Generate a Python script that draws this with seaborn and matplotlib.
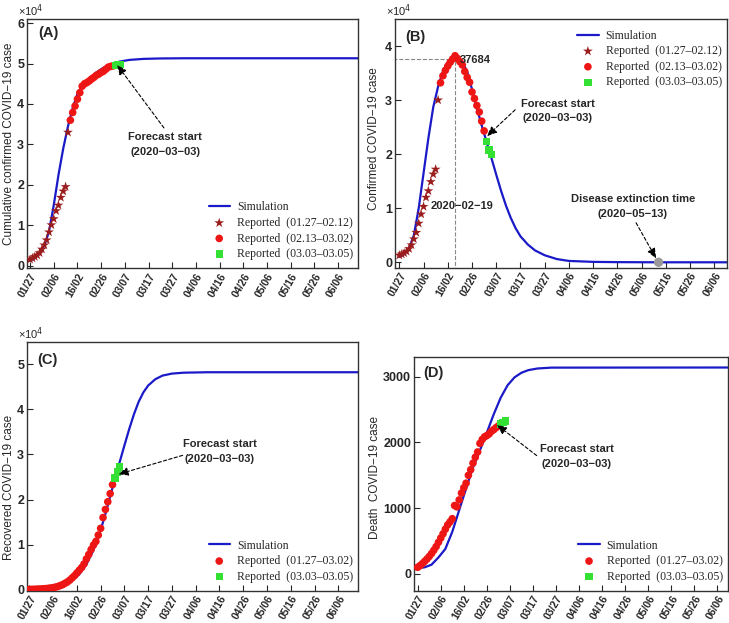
import matplotlib
matplotlib.use('Agg')
import matplotlib.pyplot as plt
import seaborn as sns
import pandas as pd
from matplotlib.ticker import FuncFormatter

# ---- data (days counted from 2020-01-27) ----
tick_days = [0, 10, 20, 30, 40, 50, 60, 70, 80, 90, 100, 110, 120, 130]
tick_labels = ['01/27', '02/06', '16/02', '02/26', '03/07', '03/17', '03/27',
               '04/06', '04/16', '04/26', '05/06', '05/16', '05/26', '06/06']

# (A) cumulative confirmed
a_sim_days = [0, 2, 4, 6, 8, 10, 12, 14, 16, 18, 20, 22, 24, 26, 28, 30, 32, 35, 38, 42, 48, 55, 65, 140]
a_sim_vals = [1300, 1900, 3000, 5000, 8500, 15000, 22500, 29000, 34500, 39000, 42500, 44500,
              45800, 46800, 47800, 48600, 49300, 50000, 50500, 50900, 51150, 51250, 51300, 51300]
a_star = [1590, 1905, 2261, 2639, 3215, 4109, 5142, 6384, 8351, 10117, 11618, 13603,
          14982, 16902, 18454, 19558, 32994]
a_red = [36000, 37900, 39500, 41200, 42800, 44400, 45000, 45300, 45700, 46200, 46600,
         47100, 47400, 47800, 48100, 48600, 49100, 49300, 49400]
a_green = [49540, 49670, 49800]

# (B) current confirmed
b_sim_days = [0, 2, 4, 6, 8, 10, 12, 14, 16, 18, 20, 22, 23, 24, 26, 28, 30, 32, 34, 36, 38,
              40, 42, 44, 46, 48, 50, 53, 56, 60, 65, 70, 80, 90, 107, 140]
b_sim_vals = [1000, 1500, 2600, 5000, 10000, 16500, 23000, 28700, 32500, 35300, 37000, 37900,
              38000, 37900, 37000, 35300, 32000, 28500, 25300, 22300, 19300, 16200, 13200,
              10500, 8200, 6300, 4800, 3300, 2200, 1300, 600, 250, 80, 30, 0, 0]
b_star = [1300, 1500, 1700, 2000, 2500, 3200, 4300, 5500, 7200, 8900, 10300, 12000, 13200,
          14900, 16300, 17200, 30000]
b_red = [33200, 34500, 35500, 36300, 37000, 37600, 38200, 37700, 37100, 36500, 35300,
         34200, 33300, 31500, 30300, 29000, 27800, 26100, 24300]
b_green = [22300, 20800, 19900]
b_peak_day, b_peak_val = 23, 37684
b_extinct_day = 107

# (C) recovered
c_sim_days = [0, 4, 8, 12, 15, 18, 21, 24, 27, 30, 32, 34, 36, 38, 40, 42, 44, 46, 48, 50,
              53, 56, 60, 65, 75, 140]
c_sim_vals = [30, 60, 150, 500, 1100, 2000, 3400, 5600, 8800, 13200, 16800, 20700, 24600,
              28300, 32000, 35600, 38900, 41700, 43800, 45300, 46700, 47500, 47950, 48150,
              48250, 48250]
c_red = [50, 60, 80, 100, 120, 150, 190, 230, 290, 360, 440, 560, 700, 900, 1100, 1400,
         1700, 2100, 2600, 3100, 3700, 4300, 4900, 5700, 6800, 7800, 8900, 9900, 10700,
         12100, 13600, 16000, 17800, 19500, 21300, 23300]
c_green = [24800, 26100, 27200]

# (D) deaths
d_sim_days = [0, 3, 6, 9, 12, 15, 18, 21, 24, 27, 30, 33, 36, 39, 42, 45, 48, 52, 58, 140]
d_sim_vals = [90, 100, 140, 250, 380, 640, 970, 1300, 1620, 1880, 2150, 2430, 2680, 2870,
              2990, 3060, 3100, 3125, 3138, 3140]
d_red = [100, 125, 155, 190, 225, 265, 310, 360, 415, 480, 545, 610, 680, 745, 790, 840,
         1040, 1020, 1125, 1230, 1310, 1380, 1500, 1585, 1685, 1775, 1855, 1985, 2045, 2085,
         2105, 2130, 2170, 2195, 2225, 2250]
d_green = [2282, 2305, 2328]

# ---- style ----
sns.set_style('ticks')
plt.rcParams['font.family'] = ['Liberation Sans', 'DejaVu Sans']
plt.rcParams['axes.linewidth'] = 1.0
plt.rcParams['axes.edgecolor'] = '#333333'

BLUE = '#1a1ac8'
DARKRED = '#9b1c1c'
RED = '#ee1515'
GREEN = '#33e033'
MINUS = '\u2212'

fig = plt.figure(figsize=(7.29, 6.23), dpi=100)
axA = fig.add_axes([0.0370, 0.5693, 0.4541, 0.4002])
axB = fig.add_axes([0.5418, 0.5703, 0.4550, 0.3992])
axC = fig.add_axes([0.0370, 0.0514, 0.4541, 0.3992])
axD = fig.add_axes([0.5679, 0.0514, 0.4307, 0.3756])


def add_series(ax, sim_days, sim_vals, groups):
    sns.lineplot(x=sim_days, y=sim_vals, ax=ax, color=BLUE, lw=1.6, label='Simulation')
    start = 0
    for vals, marker, color, size, label in groups:
        days = list(range(start, start + len(vals)))
        sns.scatterplot(x=days, y=vals, ax=ax, marker=marker, color=color, s=size,
                        edgecolor='none', label=label, zorder=3)
        start += len(vals)


def style_axis(ax, xlim, ylim, yticks, scale, letter, letter_xy, ylabel, ylab_xy, offset):
    ax.set_xlim(*xlim)
    ax.set_ylim(*ylim)
    ax.set_xticks(tick_days)
    ax.set_xticklabels(tick_labels, rotation=60, ha='right', rotation_mode='anchor',
                       fontsize=7.5, fontweight='bold')
    ax.set_yticks(yticks)
    ax.yaxis.set_major_formatter(FuncFormatter(lambda v, p: f'{v / scale:.0f}'))
    for t in ax.get_yticklabels():
        t.set_fontweight('bold')
        t.set_fontsize(9)
    ax.tick_params(direction='in', length=4, width=0.8, pad=2)
    ax.set_ylabel(ylabel, fontsize=8.5)
    ax.yaxis.set_label_coords(*ylab_xy)
    ax.text(letter_xy[0], letter_xy[1], letter, transform=ax.transAxes,
            fontsize=10.5, fontweight='bold', va='center')
    if offset:
        ax.text(-0.027, 1.035, '\u00d710$^4$', transform=ax.transAxes, fontsize=8,
                va='center', ha='left')


def forecast(ax, text_xy, tail, head):
    ax.text(text_xy[0], text_xy[1], 'Forecast start\n(2020' + MINUS + '03' + MINUS + '03)',
            ha='center', va='center', fontsize=8, fontweight='bold', linespacing=1.6)
    ax.annotate('', xy=head, xytext=tail,
                arrowprops=dict(arrowstyle='-|>,head_length=0.6,head_width=0.25',
                                linestyle=(0, (3, 2)), color='black', lw=0.8,
                                shrinkA=0, shrinkB=0))


def legend(ax, loc, anchor):
    leg = ax.legend(loc=loc, bbox_to_anchor=anchor, frameon=False,
                    handlelength=1.8, handletextpad=0.6, labelspacing=0.3, borderpad=0.2,
                    prop={'family': 'Liberation Serif', 'size': 8.5})
    return leg


lbl_a = 'Reported  (01.27\u201302.12)'
lbl_b = 'Reported  (02.13\u201303.02)'
lbl_c = 'Reported  (03.03\u201303.05)'
lbl_all = 'Reported  (01.27\u201303.02)'

# (A)
add_series(axA, a_sim_days, a_sim_vals,
           [(a_star, '*', DARKRED, 55, lbl_a), (a_red, 'o', RED, 30, lbl_b),
            (a_green, 's', GREEN, 28, lbl_c)])
style_axis(axA, (-1.3, 138.4), (-600, 61000), [0, 10000, 20000, 30000, 40000, 50000, 60000],
           1e4, '(A)', (0.035, 0.944), 'Cumulative confirmed COVID' + MINUS + '19 case',
           (-0.036, 0.5), True)
forecast(axA, (57, 30000), (56.5, 34100), (36.7, 49700))
legend(axA, 'lower right', (1.01, 0.0))

# (B)
add_series(axB, b_sim_days, b_sim_vals,
           [(b_star, '*', DARKRED, 55, lbl_a), (b_red, 'o', RED, 30, lbl_b),
            (b_green, 's', GREEN, 28, lbl_c)])
axB.plot([-5, b_peak_day], [b_peak_val, b_peak_val], ls='--', color='#888888', lw=0.8, zorder=1)
axB.plot([b_peak_day, b_peak_day], [-5000, b_peak_val], ls='--', color='#888888', lw=0.8, zorder=1)
sns.scatterplot(x=[b_extinct_day], y=[0], ax=axB, color='#999999', s=45, edgecolor='none',
                zorder=4)
axB.text(25, 37500, '37684', fontsize=8, fontweight='bold', va='center')
axB.text(26, 10400, '2020' + MINUS + '02' + MINUS + '19', fontsize=8, fontweight='bold',
         ha='center', va='center')
axB.text(96.3, 10300, 'Disease extinction time\n(2020' + MINUS + '05' + MINUS + '13)',
         ha='center', va='center', fontsize=8, fontweight='bold', linespacing=1.6)
axB.annotate('', xy=(106, 700), xytext=(97.7, 7300),
             arrowprops=dict(arrowstyle='-|>,head_length=0.6,head_width=0.25',
                             linestyle=(0, (3, 2)), color='black', lw=0.8,
                             shrinkA=0, shrinkB=0))
style_axis(axB, (-1.8, 135.1), (-1000, 45000), [0, 10000, 20000, 30000, 40000],
           1e4, '(B)', (0.03, 0.928), 'Confirmed COVID' + MINUS + '19 case',
           (-0.045, 0.52), True)
forecast(axB, (65.3, 28000), (47.8, 28200), (36.1, 23300))
legend(axB, 'upper right', (1.01, 0.99))

# (C)
add_series(axC, c_sim_days, c_sim_vals,
           [(c_red, 'o', RED, 30, lbl_all), (c_green, 's', GREEN, 28, lbl_c)])
style_axis(axC, (-1.0, 138.3), (-300, 54900), [0, 10000, 20000, 30000, 40000, 50000],
           1e4, '(C)', (0.03, 0.929), 'Recovered COVID' + MINUS + '19 case',
           (-0.036, 0.416), True)
forecast(axC, (80.2, 30700), (64.5, 29800), (37.4, 25600))
legend(axC, 'lower right', (1.01, 0.0))

# (D)
add_series(axD, d_sim_days, d_sim_vals,
           [(d_red, 'o', RED, 30, lbl_all), (d_green, 's', GREEN, 28, lbl_c)])
style_axis(axD, (-1.6, 134.6), (-260, 3300), [0, 1000, 2000, 3000],
           1, '(D)', (0.029, 0.93), 'Death  COVID' + MINUS + '19 case',
           (-0.105, 0.485), False)
forecast(axD, (69, 1790), (51.6, 1800), (34.3, 2270))
legend(axD, 'lower right', (1.01, 0.0))

for ax in (axA, axB, axC, axD):
    for s in ax.spines.values():
        s.set_visible(True)

plt.savefig('out.png', dpi=100)
